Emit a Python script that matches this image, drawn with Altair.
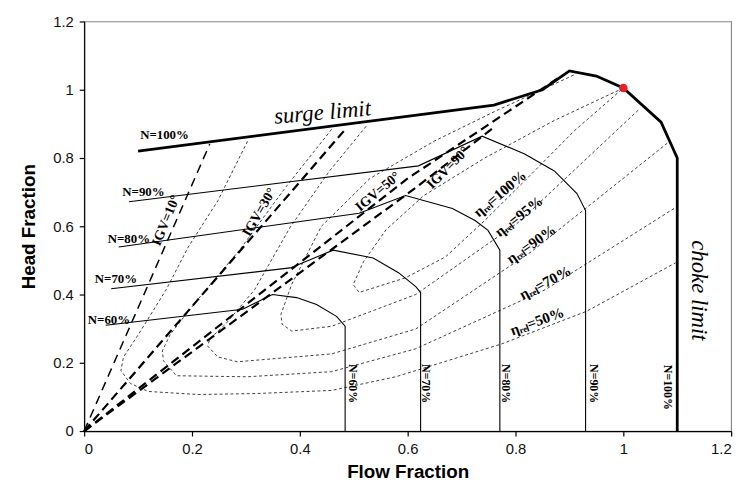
import altair as alt
import pandas as pd

# ---------------- data ----------------
surge_x = [0.10, 0.76, 0.85, 0.90, 0.95, 1.00, 1.07, 1.10, 1.10]
surge_y = [0.82, 0.955, 1.00, 1.055, 1.04, 1.005, 0.905, 0.80, 0.0]

n90_x = [0.083, 0.620, 0.738, 0.817, 0.872, 0.914, 0.930, 0.930]
n90_y = [0.672, 0.777, 0.864, 0.812, 0.762, 0.696, 0.646, 0.0]
n80_x = [0.064, 0.510, 0.596, 0.683, 0.725, 0.749, 0.771, 0.771]
n80_y = [0.539, 0.638, 0.690, 0.652, 0.617, 0.588, 0.530, 0.0]
n70_x = [0.050, 0.382, 0.462, 0.536, 0.583, 0.615, 0.624, 0.624]
n70_y = [0.417, 0.478, 0.530, 0.507, 0.464, 0.423, 0.406, 0.0]
n60_x = [0.040, 0.294, 0.349, 0.394, 0.431, 0.468, 0.484, 0.484]
n60_y = [0.310, 0.357, 0.400, 0.391, 0.371, 0.336, 0.307, 0.0]

igv10_x = [0.0, 0.233]
igv10_y = [0.0, 0.841]
igv30_x = [0.0, 0.486]
igv30_y = [0.0, 0.887]
igv50_x = [0.0, 0.60, 0.88]
igv50_y = [0.0, 0.74, 1.035]
igv90_x = [0.0, 0.615, 0.76]
igv90_y = [0.0, 0.713, 0.89]

eta50_x = [0.303, 0.248, 0.193, 0.152, 0.101, 0.073, 0.068, 0.086, 0.119, 0.211, 0.321, 0.459, 0.578, 0.774, 0.932, 1.097]
eta50_y = [0.849, 0.675, 0.539, 0.414, 0.284, 0.217, 0.177, 0.139, 0.116, 0.107, 0.110, 0.119, 0.159, 0.255, 0.351, 0.493]
eta70_x = [0.459, 0.376, 0.288, 0.211, 0.160, 0.145, 0.147, 0.171, 0.303, 0.459, 0.615, 0.855, 1.097]
eta70_y = [0.884, 0.719, 0.530, 0.386, 0.284, 0.235, 0.206, 0.162, 0.159, 0.174, 0.241, 0.414, 0.655]
eta90_x = [0.523, 0.455, 0.382, 0.316, 0.262, 0.233, 0.229, 0.248, 0.284, 0.459, 0.615, 0.829, 1.086]
eta90_y = [0.893, 0.762, 0.597, 0.414, 0.313, 0.270, 0.249, 0.217, 0.203, 0.226, 0.299, 0.525, 0.849]
eta95_x = [0.908, 0.761, 0.650, 0.530, 0.440, 0.385, 0.365, 0.367, 0.385, 0.459, 0.615, 0.806, 1.031]
eta95_y = [1.043, 0.936, 0.850, 0.740, 0.600, 0.430, 0.342, 0.313, 0.293, 0.307, 0.400, 0.612, 0.945]
eta100_x = [1.0, 0.872, 0.743, 0.630, 0.560, 0.518, 0.499, 0.510, 0.596, 0.670, 0.743, 0.817, 0.908, 1.0]
eta100_y = [1.005, 0.910, 0.800, 0.690, 0.590, 0.496, 0.429, 0.406, 0.449, 0.510, 0.617, 0.733, 0.878, 1.005]

design_x = [1.0]
design_y = [1.005]

left_labels = ["N=100%", "N=90%", "N=80%", "N=70%", "N=60%"]
left_lx = [0.149, 0.110, 0.083, 0.059, 0.046]
left_ly = [0.867, 0.699, 0.562, 0.446, 0.325]

bottom_labels = ["N=60%", "N=70%", "N=80%", "N=90%", "N=100%"]
bottom_lx = [0.499, 0.633, 0.783, 0.945, 1.083]
bottom_ly = [0.139, 0.139, 0.139, 0.139, 0.128]

igv_labels = ["IGV=10°", "IGV=30°", "IGV=50°", "IGV=90°"]
igv_lx = [0.152, 0.325, 0.545, 0.675]
igv_ly = [0.617, 0.641, 0.701, 0.771]
igv_angle = [292, 300, 320, 315]

eta_labels = ["ηᵣₑₗ=100%", "ηᵣₑₗ=95%", "ηᵣₑₗ=90%", "ηᵣₑₗ=70%", "ηᵣₑₗ=50%"]
eta_lx = [0.771, 0.806, 0.829, 0.855, 0.840]
eta_ly = [0.696, 0.629, 0.548, 0.435, 0.322]
eta_angle = [320, 322, 325, 332, 340]

limit_labels = ["surge limit", "choke limit"]
limit_lx = [0.442, 1.141]
limit_ly = [0.933, 0.412]
limit_angle = [355, 90]

x_ticks = [0, 0.2, 0.4, 0.6, 0.8, 1.0, 1.2]
y_ticks = [0, 0.2, 0.4, 0.6, 0.8, 1.0, 1.2]

# ---------------- build tables ----------------
def lines_df(series):
    rows = []
    for name, (xs, ys) in series.items():
        for i, (a, b) in enumerate(zip(xs, ys)):
            rows.append({"series": name, "order": i, "x": a, "y": b})
    return pd.DataFrame(rows)

surge_df = lines_df({"surge": (surge_x, surge_y)})
speed_df = lines_df({"N90": (n90_x, n90_y), "N80": (n80_x, n80_y),
                     "N70": (n70_x, n70_y), "N60": (n60_x, n60_y)})
igv_df = lines_df({"IGV30": (igv30_x, igv30_y), "IGV50": (igv50_x, igv50_y),
                   "IGV90": (igv90_x, igv90_y)})
igv10_df = lines_df({"IGV10": (igv10_x, igv10_y)})
eta_df = lines_df({"e50": (eta50_x, eta50_y), "e70": (eta70_x, eta70_y),
                   "e90": (eta90_x, eta90_y), "e95": (eta95_x, eta95_y),
                   "e100": (eta100_x, eta100_y)})
dot_df = pd.DataFrame({"x": design_x, "y": design_y})

left_df = pd.DataFrame({"t": left_labels, "x": left_lx, "y": left_ly})
bottom_df = pd.DataFrame({"t": bottom_labels, "x": bottom_lx, "y": bottom_ly})
igvl_df = pd.DataFrame({"t": igv_labels, "x": igv_lx, "y": igv_ly, "a": igv_angle})
etal_df = pd.DataFrame({"t": eta_labels, "x": eta_lx, "y": eta_ly, "a": eta_angle})
lim_df = pd.DataFrame({"t": limit_labels, "x": limit_lx, "y": limit_ly, "a": limit_angle})

xs = alt.Scale(domain=[0, 1.2], nice=False, zero=False)
ys = alt.Scale(domain=[0, 1.2], nice=False, zero=False)

X = alt.X("x:Q", scale=xs, axis=alt.Axis(values=x_ticks, format="~g", title="Flow Fraction",
                                          grid=False))
Y = alt.Y("y:Q", scale=ys, axis=alt.Axis(values=y_ticks, format="~g", title="Head Fraction",
                                          grid=False))

def line_layer(df, color="black", **kw):
    return alt.Chart(df).mark_line(color=color, **kw).encode(
        x=X, y=Y, detail="series:N", order="order:Q")

eta_layer = line_layer(eta_df, color="#2a2a2a", strokeWidth=0.9, strokeDash=[3, 2.5])
igv10_layer = line_layer(igv10_df, strokeWidth=1.5, strokeDash=[9, 6])
igv_layer = line_layer(igv_df, strokeWidth=2.2, strokeDash=[9, 5])
speed_layer = line_layer(speed_df, strokeWidth=1.1)
surge_layer = line_layer(surge_df, strokeWidth=2.8)

dot_layer = alt.Chart(dot_df).mark_circle(color="#e8202a", size=75, opacity=1).encode(x=X, y=Y)

serif = "Liberation Serif"
left_text = alt.Chart(left_df).mark_text(font=serif, fontWeight="bold", fontSize=13,
                                         color="black").encode(x=X, y=Y, text="t:N")
bottom_text = alt.Chart(bottom_df).mark_text(font=serif, fontWeight="bold", fontSize=12,
                                             angle=90, color="black").encode(x=X, y=Y, text="t:N")
igv_text = alt.Chart(igvl_df).mark_text(font=serif, fontWeight="bold", fontSize=14,
                                        color="black").encode(
    x=X, y=Y, text="t:N", angle=alt.Angle("a:Q", scale=None))
eta_text = alt.Chart(etal_df).mark_text(font=serif, fontWeight="bold", fontSize=15,
                                        color="black").encode(
    x=X, y=Y, text="t:N", angle=alt.Angle("a:Q", scale=None))
lim_text = alt.Chart(lim_df).mark_text(font=serif, fontStyle="italic", fontSize=23,
                                       color="black").encode(
    x=X, y=Y, text="t:N", angle=alt.Angle("a:Q", scale=None))

chart = alt.layer(
    eta_layer, igv10_layer, igv_layer, speed_layer, surge_layer, dot_layer,
    left_text, bottom_text, igv_text, eta_text, lim_text
).properties(
    width=654, height=414,
    autosize=alt.AutoSizeParams(type="none"),
    padding={"left": 77, "top": 11, "right": 15, "bottom": 60},
    background="white",
).configure_view(
    stroke="#8a8a8a", strokeWidth=1.2
).configure_axis(
    domainColor="black", domainWidth=1.2, tickColor="black", tickSize=5, tickWidth=1.2,
    labelFont="Liberation Sans", labelFontSize=15, labelColor="#111111", labelPadding=6,
    titleFont="Liberation Sans", titleFontSize=19, titleFontWeight="bold", titleColor="black",
).configure_axisX(
    titlePadding=6
).configure_axisY(
    titlePadding=14
)

chart.save("out.html", embed_options={"renderer": "svg", "actions": False})
